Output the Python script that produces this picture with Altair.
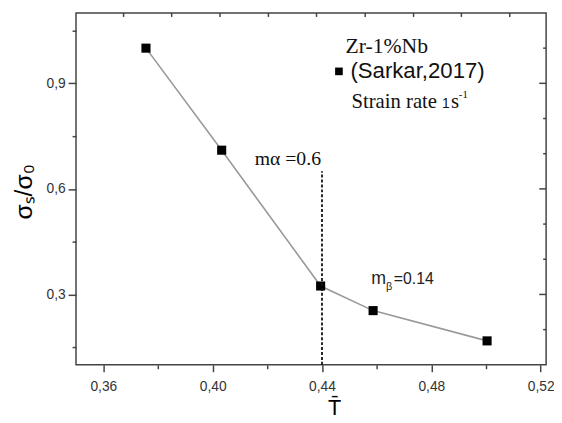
import altair as alt
import pandas as pd

# ---- data ----
t_vals = [0.3756, 0.4033, 0.4395, 0.4587, 0.5004]
ratio_vals = [1.0, 0.71, 0.324, 0.254, 0.168]

x_domain = [0.35, 0.522]
y_domain = [0.1, 1.1]
x_ticks = [0.36, 0.38, 0.40, 0.42, 0.44, 0.46, 0.48, 0.50, 0.52]
y_ticks = [0.15, 0.30, 0.45, 0.60, 0.75, 0.90, 1.05]
top_ticks = [0.3674, 0.3850, 0.4027, 0.4204, 0.4380, 0.4558, 0.4735, 0.4910, 0.5087]
right_major = [0.3, 0.6, 0.9]
right_minor = [0.2, 0.4, 0.5, 0.7, 0.8, 1.0]

rule_x = [0.44]
rule_y = [0.1]
rule_y2 = [0.65]

# annotation anchors (data coordinates)
ma_text = ["m\u03b1 =0.6"]
ma_x = [0.4275]
ma_y = [0.668]
mb_x = [0.4580]
mb_y = [0.330]
leg_marker_x = [0.4462]
leg_marker_y = [0.934]
leg_x = [0.4486]
leg_title_y = [0.986]
leg_label_y = [0.914]
leg_rate_y = [0.830]

data = pd.DataFrame({"T": t_vals, "r": ratio_vals})
rule_df = pd.DataFrame({"x": rule_x, "y": rule_y, "y2": rule_y2})

xs = alt.Scale(domain=x_domain, nice=False, zero=False)
ys = alt.Scale(domain=y_domain, nice=False, zero=False)

FRAME = "#444444"
PLOT_W = 477
PLOT_H = 357

bottom_axis = alt.Axis(
    orient="bottom", values=x_ticks, domain=False, grid=False,
    tickSize={"condition": {"test": "round(datum.value*100) % 4 == 0", "value": 7}, "value": 4},
    tickColor=FRAME, tickWidth=1.5,
    labelExpr="round(datum.value*100) % 4 == 0 ? replace(format(datum.value, '.2f'), '.', ',') : ''",
    labelFont="Liberation Sans", labelFontSize=14, labelColor="#333333", labelPadding=8,
    title="T\u0304", titleFont="Liberation Sans", titleFontSize=22, titleFontWeight="normal",
    titleColor="#000000", titleX=262, titleY=50, titleBaseline="alphabetic", titleAlign="center",
)
left_axis = alt.Axis(
    orient="left", values=y_ticks, domain=False, grid=False,
    tickSize={"condition": {"test": "round(datum.value*100) % 30 == 0", "value": 8}, "value": 4},
    tickColor=FRAME, tickWidth=1.5,
    labelExpr="round(datum.value*100) % 30 == 0 ? replace(format(datum.value, '.1f'), '.', ',') : ''",
    labelFont="Liberation Sans", labelFontSize=14, labelColor="#333333", labelPadding=3,
    title="\u03c3\u209b/\u03c3\u2080", titleFont="Liberation Sans", titleFontSize=25,
    titleFontWeight="normal", titleColor="#000000", titleAngle=270, titleX=-45, titleY=181,
    titleBaseline="alphabetic", titleAlign="center",
)


def X(field):
    return alt.X(field, type="quantitative", scale=xs, axis=bottom_axis)


def Y(field):
    return alt.Y(field, type="quantitative", scale=ys, axis=left_axis)


line = alt.Chart(data).mark_line(color="#999999", strokeWidth=1.6).encode(
    x=X("T"), y=Y("r"))
points = alt.Chart(data).mark_point(shape="square", filled=True, color="#000000",
                                    size=85, opacity=1).encode(x=X("T"), y=Y("r"))
rule = alt.Chart(rule_df).mark_rule(color="#111111", strokeWidth=1.8,
                                    strokeDash=[3, 2]).encode(
    x=X("x"), y=Y("y"), y2="y2:Q")

# inward frame ticks on the top and right edges
top_tk = alt.Chart(pd.DataFrame({"v": top_ticks})).mark_rule(
    color=FRAME, strokeWidth=1.5).encode(
    x=X("v"), y=alt.value(0), y2=alt.value(4))
right_maj_tk = alt.Chart(pd.DataFrame({"v": right_major})).mark_rule(
    color=FRAME, strokeWidth=1.5).encode(
    y=Y("v"), x=alt.value(PLOT_W - 7), x2=alt.value(PLOT_W))
right_min_tk = alt.Chart(pd.DataFrame({"v": right_minor})).mark_rule(
    color=FRAME, strokeWidth=1.5).encode(
    y=Y("v"), x=alt.value(PLOT_W - 3), x2=alt.value(PLOT_W))


def txt(df, **kw):
    return alt.Chart(df).mark_text(**kw).encode(x=X("x"), y=Y("y"), text="t:N")


ma = txt(pd.DataFrame({"x": ma_x, "y": ma_y, "t": ma_text}),
         font="Liberation Serif", fontSize=20, align="center", baseline="alphabetic", color="#111")

mb1 = txt(pd.DataFrame({"x": mb_x, "y": mb_y, "t": ["m"]}),
          font="Liberation Sans", fontSize=18, align="left", baseline="alphabetic", color="#222")
mb2 = txt(pd.DataFrame({"x": mb_x, "y": mb_y, "t": ["\u03b2"]}),
          font="Liberation Sans", fontSize=11, align="left", baseline="alphabetic",
          color="#222", dx=15, dy=6)
mb3 = txt(pd.DataFrame({"x": mb_x, "y": mb_y, "t": ["=0.14"]}),
          font="Liberation Sans", fontSize=16, align="left", baseline="alphabetic",
          color="#222", dx=23)

leg_marker = alt.Chart(pd.DataFrame({"x": leg_marker_x, "y": leg_marker_y})).mark_point(
    shape="square", filled=True, color="#000000", size=60, opacity=1).encode(
    x=X("x"), y=Y("y"))

leg1 = txt(pd.DataFrame({"x": leg_x, "y": leg_title_y, "t": ["Zr-1%Nb"]}),
           font="Liberation Serif", fontSize=22, align="left", baseline="alphabetic", color="#111")
leg2 = txt(pd.DataFrame({"x": leg_x, "y": leg_label_y, "t": ["(Sarkar,2017)"]}),
           font="Liberation Sans", fontSize=22.5, align="left", baseline="alphabetic",
           color="#111", dx=5)
leg3 = txt(pd.DataFrame({"x": leg_x, "y": leg_rate_y, "t": ["Strain rate"]}),
           font="Liberation Serif", fontSize=21, align="left", baseline="alphabetic",
           color="#111", dx=6)
leg4 = txt(pd.DataFrame({"x": leg_x, "y": leg_rate_y, "t": ["1"]}),
           font="Liberation Sans", fontSize=14, align="left", baseline="alphabetic",
           color="#111", dx=98)
leg5 = txt(pd.DataFrame({"x": leg_x, "y": leg_rate_y, "t": ["s"]}),
           font="Liberation Serif", fontSize=21, align="left", baseline="alphabetic",
           color="#111", dx=107)
leg6 = txt(pd.DataFrame({"x": leg_x, "y": leg_rate_y, "t": ["-1"]}),
           font="Liberation Serif", fontSize=11, align="left", baseline="alphabetic",
           color="#111", dx=115, dy=-10)

chart = alt.layer(
    line, points, rule, top_tk, right_maj_tk, right_min_tk,
    ma, mb1, mb2, mb3, leg_marker, leg1, leg2, leg3, leg4, leg5, leg6
).properties(
    width=PLOT_W, height=PLOT_H,
    autosize=alt.AutoSizeParams(type="none"),
    padding={"left": 69, "top": 2, "right": 8, "bottom": 56},
    background="#ffffff",
).configure_view(stroke=FRAME, strokeWidth=1.5)

chart.save("out.html", embed_options={"renderer": "svg", "actions": False})
